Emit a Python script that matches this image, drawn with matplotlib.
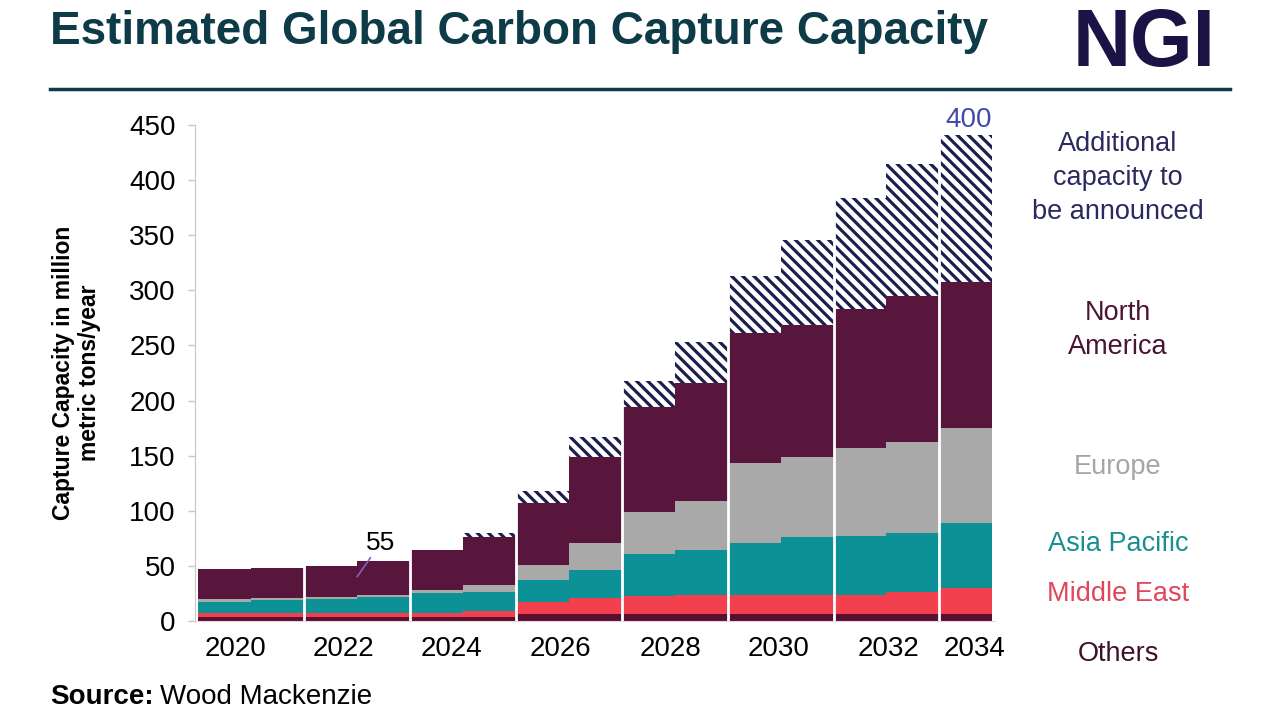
import matplotlib
matplotlib.use("Agg")
import matplotlib.pyplot as plt
import numpy as np

plt.rcParams['font.family'] = ['Liberation Sans', 'DejaVu Sans']
plt.rcParams['hatch.linewidth'] = 2.3

years = list(range(2020, 2035))
others = [4, 4, 4, 4, 4, 4, 6, 6, 6, 6, 6, 6, 6, 6, 6]
middle_east = [3, 3, 3, 3, 3.5, 5.4, 11.5, 14.6, 16.7, 18, 17.6, 17.6, 18, 20.6, 23.6]
asia_pacific = [10.5, 12, 12.7, 14.5, 17.5, 17.2, 19.5, 25.4, 38.1, 40, 47.4, 52.4, 53, 53.4, 59.4]
europe = [2.2, 1.5, 2.3, 2.1, 3, 6.1, 13.8, 25, 38.2, 45, 72, 73, 80, 82, 86]
north_america = [27.3, 27.9, 28, 31.1, 36.4, 43.3, 56.2, 78, 95, 107, 118, 119.5, 126, 133, 133]
additional = [0, 0, 0, 0, 0, 3.6, 11, 17.6, 24, 37.5, 52, 77.2, 100.5, 119.6, 133]

tick_years = [2020, 2022, 2024, 2026, 2028, 2030, 2032, 2034]
tick_offsets = [0.21, 0.25, 0.29, 0.34, 0.42, 0.47, 0.53, 0.17]
y_ticks = [0, 50, 100, 150, 200, 250, 300, 350, 400, 450]

series = [
    ("Others", others, "#5a0f2e"),
    ("Middle East", middle_east, "#f2404f"),
    ("Asia Pacific", asia_pacific, "#0c9196"),
    ("Europe", europe, "#a9a9a9"),
    ("North America", north_america, "#58163c"),
]

fig = plt.figure(figsize=(12.8, 7.2), dpi=100)
ax = fig.add_axes([195/1280, 99/720, 800/1280, 496/720])

x = np.array(years, dtype=float)
bottom = np.zeros(len(years))
for name, vals, col in series:
    v = np.array(vals, dtype=float)
    ax.bar(x, v, width=1.0, bottom=bottom, color=col, linewidth=0)
    bottom += v
ax.bar(x, np.array(additional, dtype=float), width=1.0, bottom=bottom,
       facecolor="white", edgecolor="#1c1f4e", hatch="\\\\\\", linewidth=0)

# white separators between pairs of years
for b in [2021.5, 2023.5, 2025.5, 2027.5, 2029.5, 2031.5, 2033.5]:
    ax.axvline(b, color="white", lw=2.0, zorder=5)

ax.set_xlim(2019.44, 2034.55)
ax.set_ylim(0, 450)
ax.set_yticks(y_ticks)
ax.set_yticklabels([str(t) for t in y_ticks], fontsize=20)
ax.set_xticks([t + o for t, o in zip(tick_years, tick_offsets)])
ax.set_xticklabels([str(t) for t in tick_years], fontsize=20)
ax.tick_params(axis='x', length=0, pad=11)
ax.tick_params(axis='y', length=5, width=1, color="#c8c8c8", pad=9)
for s in ["top", "right"]:
    ax.spines[s].set_visible(False)
ax.spines["left"].set_color("#c8c8c8")
ax.spines["bottom"].set_color("#e0d8e0")

ax.set_ylabel("Capture Capacity in million\nmetric tons/year", fontsize=16.5,
              fontweight="bold", labelpad=20, linespacing=1.2)

# annotations
ax.annotate("55", xy=(2022.5, 40), xytext=(2022.95, 60), fontsize=19,
            ha="center", va="bottom",
            arrowprops=dict(arrowstyle="-", color="#8a5cc4", lw=1.2,
                            shrinkA=0, shrinkB=0))
ax.text(2034.05, 443, "400", fontsize=20, color="#3f4ba8", ha="center",
        va="bottom", clip_on=False)

# right-side labels
lx = 1118/1280
fs = 19.5
fig.text(lx, 1 - 178/720, "Additional\ncapacity to\nbe announced", fontsize=fs,
         color="#2b2a5e", ha="center", va="center", linespacing=1.38)
fig.text(lx, 1 - 330/720, "North\nAmerica", fontsize=fs, color="#4a1432",
         ha="center", va="center", linespacing=1.38)
fig.text(lx, 1 - 467/720, "Europe", fontsize=fs, color="#a5a5a5", ha="center", va="center")
fig.text(lx, 1 - 544/720, "Asia Pacific", fontsize=fs, color="#18908f", ha="center", va="center")
fig.text(lx, 1 - 594/720, "Middle East", fontsize=fs, color="#e0465c", ha="center", va="center")
fig.text(lx, 1 - 654/720, "Others", fontsize=fs, color="#3c1228", ha="center", va="center")

# header
fig.text(50/1280, 1 - 32/720, "Estimated Global Carbon Capture Capacity", fontsize=33,
         fontweight="bold", color="#0d3b47", ha="left", va="center")
fig.text(1144/1280, 1 - 45/720, "NGI", fontsize=58, fontweight="bold",
         color="#1a1446", ha="center", va="center")
fig.add_artist(plt.Line2D([50/1280, 1230/1280], [1 - 89/720, 1 - 89/720],
                          color="#0d3b47", lw=2.5, transform=fig.transFigure))

# source
t = fig.text(50/1280, 1 - 697/720, "Source:", fontsize=20, fontweight="bold",
             ha="left", va="center")
fig.canvas.draw()
bb = t.get_window_extent()
fig.text(bb.x1/1280 + 6/1280, 1 - 697/720, "Wood Mackenzie", fontsize=20,
         ha="left", va="center")

fig.savefig("out.png", dpi=100)
